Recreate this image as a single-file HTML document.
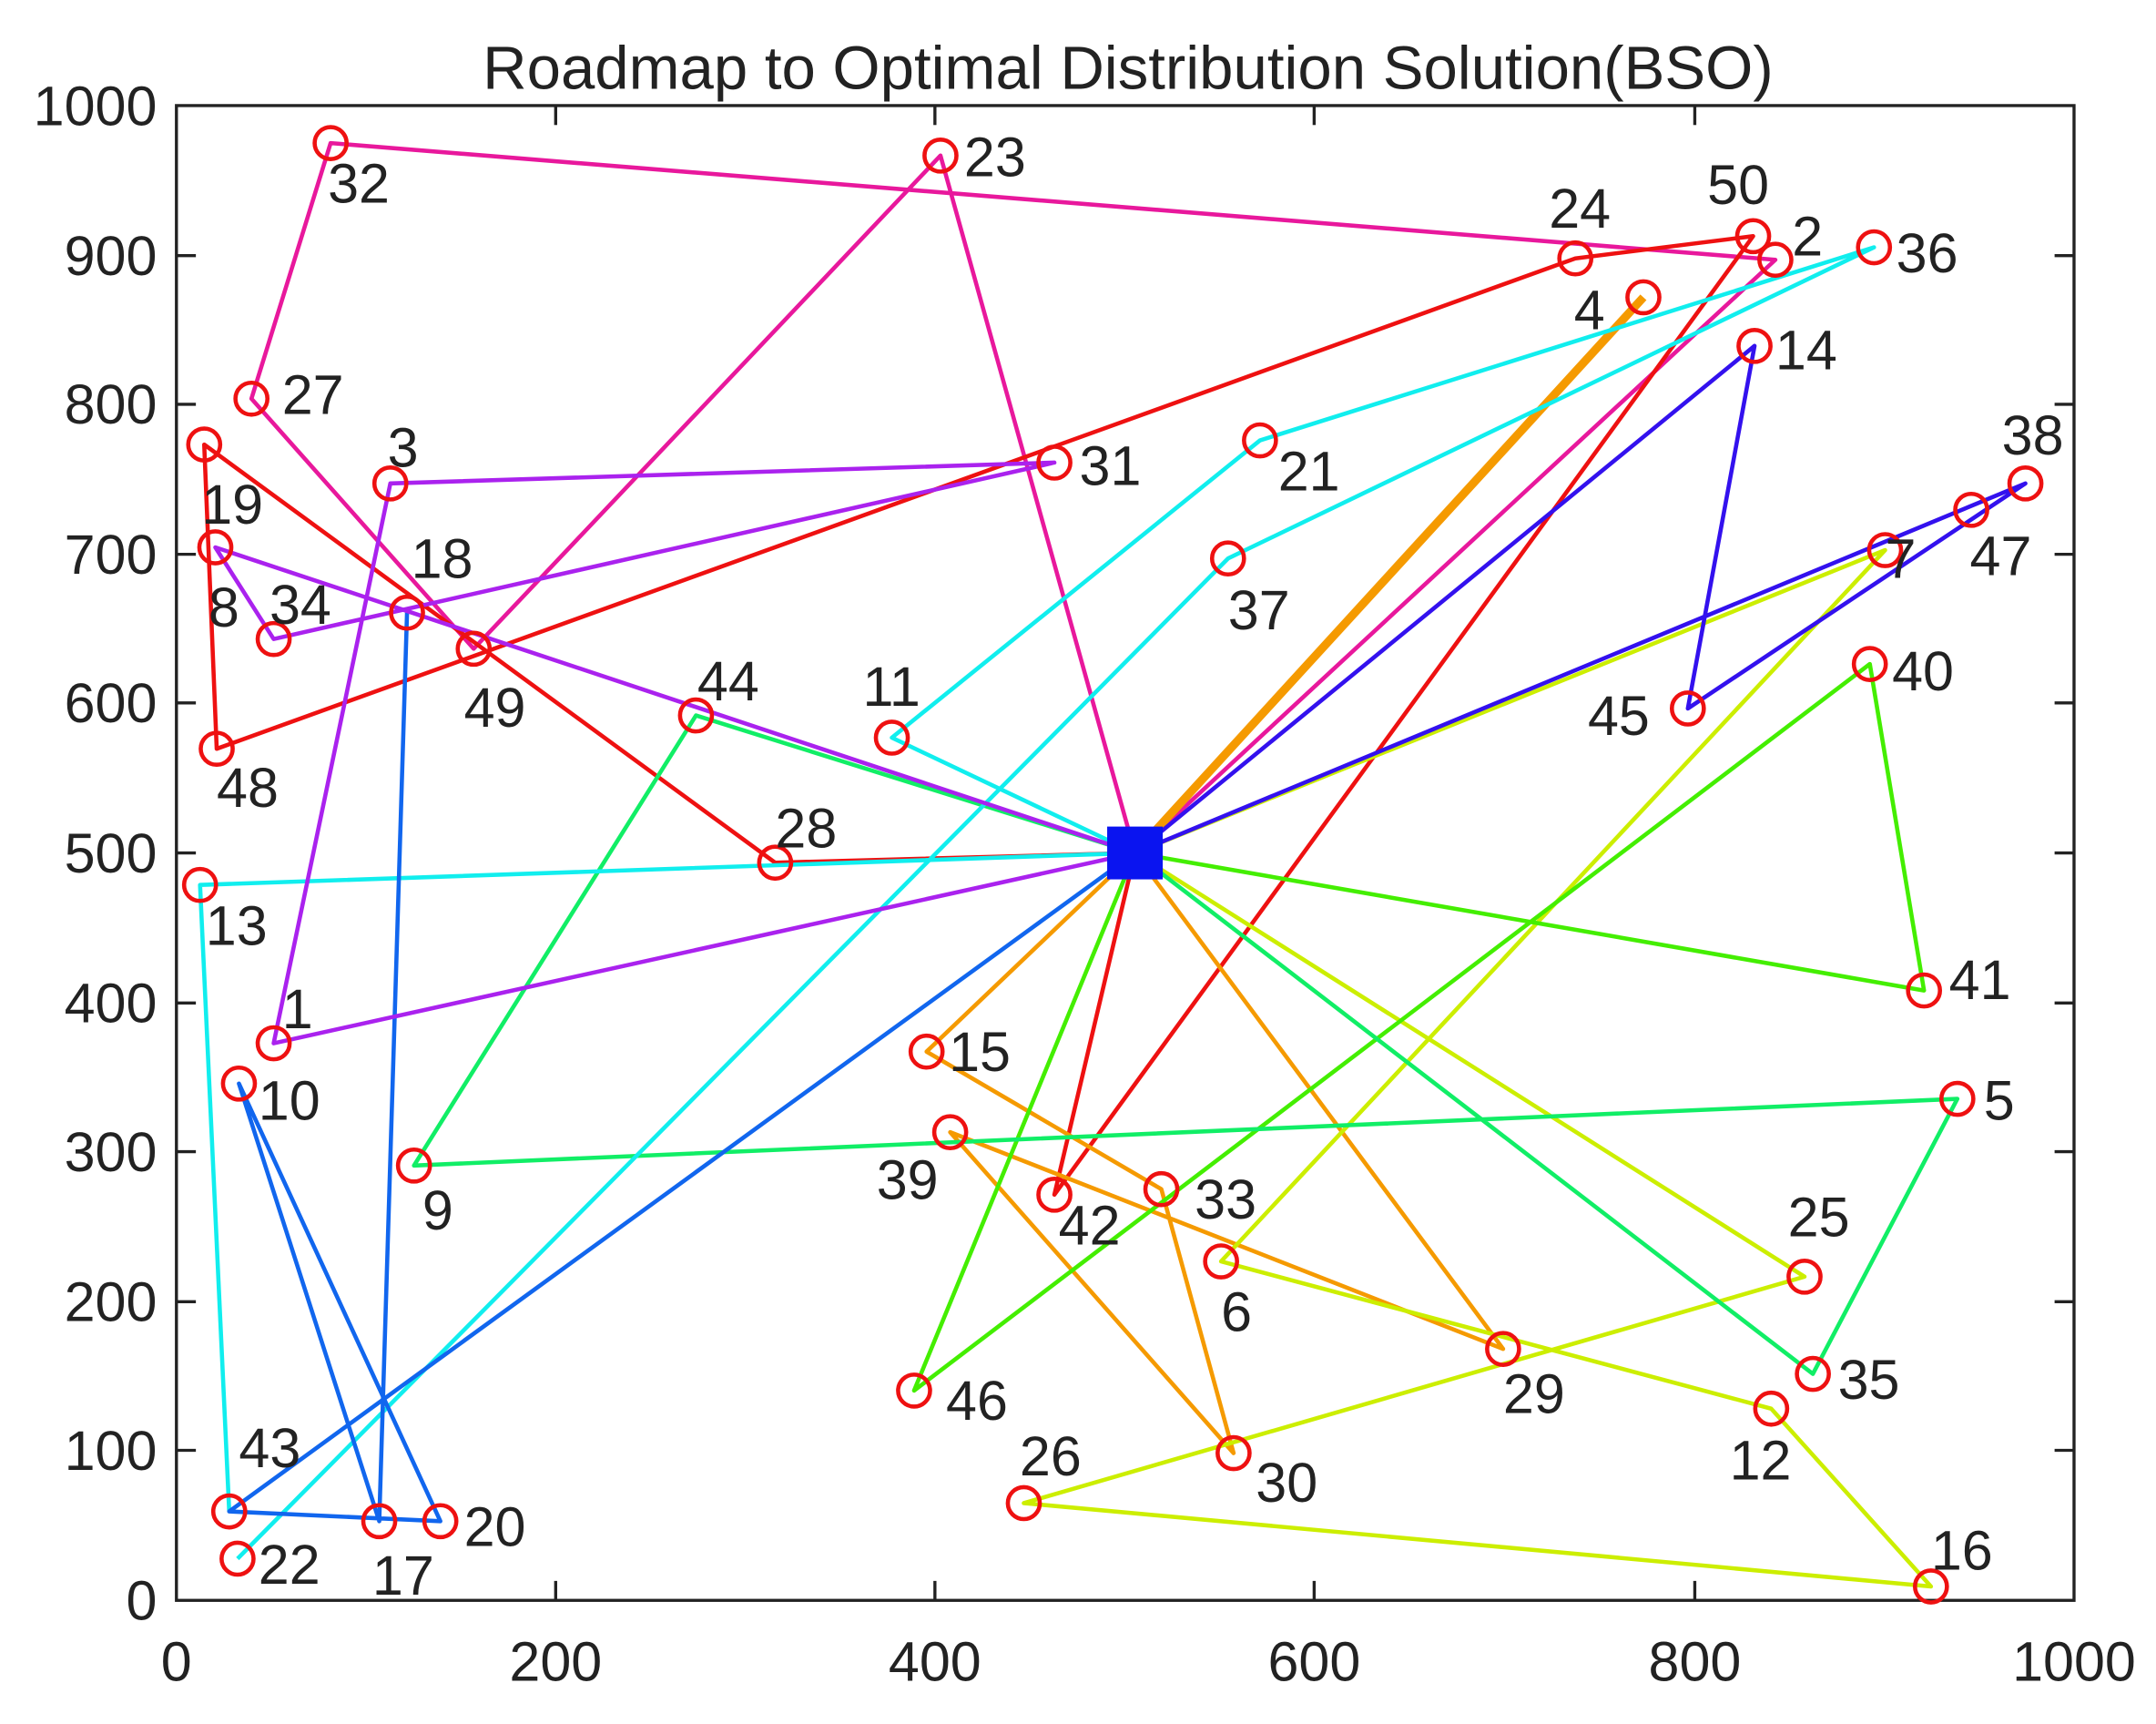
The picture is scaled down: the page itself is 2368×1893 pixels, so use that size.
<!DOCTYPE html>
<html><head><meta charset="utf-8"><style>
html,body{margin:0;padding:0;background:#fff;}
svg{display:block;}
text{font-family:"Liberation Sans",sans-serif;fill:#222;}
</style></head><body>
<svg width="2368" height="1893" viewBox="0 0 1552 1241" preserveAspectRatio="none" xmlns="http://www.w3.org/2000/svg">
<rect width="1552" height="1241" fill="#fff"/>
<text x="812" y="64" font-size="44" text-anchor="middle">Roadmap to Optimal Distribution Solution(BSO)</text>
<rect x="127" y="76" width="1366" height="1076" fill="none" stroke="#222" stroke-width="2.2"/>
<g stroke="#222" stroke-width="2.2">
<line x1="400" y1="1152" x2="400" y2="1138"/><line x1="673" y1="1152" x2="673" y2="1138"/><line x1="946" y1="1152" x2="946" y2="1138"/><line x1="1220" y1="1152" x2="1220" y2="1138"/>
<line x1="400" y1="76" x2="400" y2="90"/><line x1="673" y1="76" x2="673" y2="90"/><line x1="946" y1="76" x2="946" y2="90"/><line x1="1220" y1="76" x2="1220" y2="90"/>
<line x1="127" y1="1044" x2="141" y2="1044"/><line x1="127" y1="937" x2="141" y2="937"/><line x1="127" y1="829" x2="141" y2="829"/><line x1="127" y1="722" x2="141" y2="722"/><line x1="127" y1="614" x2="141" y2="614"/><line x1="127" y1="506" x2="141" y2="506"/><line x1="127" y1="399" x2="141" y2="399"/><line x1="127" y1="291" x2="141" y2="291"/><line x1="127" y1="184" x2="141" y2="184"/>
<line x1="1493" y1="1044" x2="1479" y2="1044"/><line x1="1493" y1="937" x2="1479" y2="937"/><line x1="1493" y1="829" x2="1479" y2="829"/><line x1="1493" y1="722" x2="1479" y2="722"/><line x1="1493" y1="614" x2="1479" y2="614"/><line x1="1493" y1="506" x2="1479" y2="506"/><line x1="1493" y1="399" x2="1479" y2="399"/><line x1="1493" y1="291" x2="1479" y2="291"/><line x1="1493" y1="184" x2="1479" y2="184"/>
</g>
<g font-size="40" text-anchor="middle">
<text x="127" y="1210">0</text><text x="400" y="1210">200</text><text x="673" y="1210">400</text><text x="946" y="1210">600</text><text x="1220" y="1210">800</text><text x="1493" y="1210">1000</text>
</g>
<g font-size="40" text-anchor="end">
<text x="113" y="1166">0</text><text x="113" y="1058">100</text><text x="113" y="951">200</text><text x="113" y="843">300</text><text x="113" y="736">400</text><text x="113" y="628">500</text><text x="113" y="520">600</text><text x="113" y="413">700</text><text x="113" y="305">800</text><text x="113" y="198">900</text><text x="113" y="90">1000</text>
</g>
<g fill="none" stroke-width="3" stroke-linejoin="round">
<polyline stroke="#e8189c" points="817,614 1278,187 238,103 181,287 341,467 677,112 817,614"/>
<polyline stroke="#ee1111" points="817,614 759,860 1262,170 1134,186 156,539 147,320 558,621 817,614"/>
<polyline stroke="#f59a00" points="817,614 667,757 836,856 888,1046 684,815 1082,971 817,614"/>
<polyline stroke="#f59a00" stroke-width="6" points="817,614 1183,214"/>
<polyline stroke="#ccee00" points="817,614 1299,919 737,1082 1390,1142 1275,1014 879,908 1357,396 817,614"/>
<polyline stroke="#44ee00" points="817,614 658,1001 1346,478 1385,713 817,614"/>
<polyline stroke="#11ee66" points="817,614 1305,989 1409,791 298,839 501,515 817,614"/>
<polyline stroke="#11eeee" points="817,614 642,531 907,317 1349,178 884,402 171,1122"/>
<polyline stroke="#11eeee" points="165,1088 144,637 817,614"/>
<polyline stroke="#1166ee" points="817,614 165,1088 317,1095 172,780 273,1095 293,441"/>
<polyline stroke="#aa22ee" points="817,614 197,751 281,348 759,333 197,460 155,394 817,614"/>
<polyline stroke="#3311ee" points="817,614 1263,249 1215,510 1458,348 817,614"/>
</g>
<rect x="797" y="595" width="40" height="38" fill="#0a14f0"/>
<g fill="none" stroke="#ee1111" stroke-width="3">
<circle cx="197" cy="751" r="11.5"/><circle cx="1278" cy="187" r="11.5"/><circle cx="281" cy="348" r="11.5"/><circle cx="1183" cy="214" r="11.5"/><circle cx="1409" cy="791" r="11.5"/><circle cx="879" cy="908" r="11.5"/><circle cx="1357" cy="396" r="11.5"/><circle cx="155" cy="394" r="11.5"/><circle cx="298" cy="839" r="11.5"/><circle cx="172" cy="780" r="11.5"/>
<circle cx="642" cy="531" r="11.5"/><circle cx="1275" cy="1014" r="11.5"/><circle cx="144" cy="637" r="11.5"/><circle cx="1263" cy="249" r="11.5"/><circle cx="667" cy="757" r="11.5"/><circle cx="1390" cy="1142" r="11.5"/><circle cx="273" cy="1095" r="11.5"/><circle cx="293" cy="441" r="11.5"/><circle cx="147" cy="320" r="11.5"/><circle cx="317" cy="1095" r="11.5"/>
<circle cx="907" cy="317" r="11.5"/><circle cx="171" cy="1122" r="11.5"/><circle cx="677" cy="112" r="11.5"/><circle cx="1134" cy="186" r="11.5"/><circle cx="1299" cy="919" r="11.5"/><circle cx="737" cy="1082" r="11.5"/><circle cx="181" cy="287" r="11.5"/><circle cx="558" cy="621" r="11.5"/><circle cx="1082" cy="971" r="11.5"/><circle cx="888" cy="1046" r="11.5"/>
<circle cx="759" cy="333" r="11.5"/><circle cx="238" cy="103" r="11.5"/><circle cx="836" cy="856" r="11.5"/><circle cx="197" cy="460" r="11.5"/><circle cx="1305" cy="989" r="11.5"/><circle cx="1349" cy="178" r="11.5"/><circle cx="884" cy="402" r="11.5"/><circle cx="1458" cy="348" r="11.5"/><circle cx="684" cy="815" r="11.5"/><circle cx="1346" cy="478" r="11.5"/>
<circle cx="1385" cy="713" r="11.5"/><circle cx="759" cy="860" r="11.5"/><circle cx="165" cy="1088" r="11.5"/><circle cx="501" cy="515" r="11.5"/><circle cx="1215" cy="510" r="11.5"/><circle cx="658" cy="1001" r="11.5"/><circle cx="1419" cy="367" r="11.5"/><circle cx="156" cy="539" r="11.5"/><circle cx="341" cy="467" r="11.5"/><circle cx="1262" cy="170" r="11.5"/>
</g>
<g font-size="40">
<text x="203" y="740">1</text><text x="1290" y="184">2</text><text x="279" y="336">3</text><text x="1133" y="237">4</text><text x="1428" y="806">5</text><text x="879" y="958">6</text><text x="1357" y="416">7</text><text x="150" y="451">8</text><text x="304" y="885">9</text><text x="186" y="806">10</text>
<text x="621" y="508">11</text><text x="1245" y="1065">12</text><text x="148" y="680">13</text><text x="1278" y="266">14</text><text x="683" y="771">15</text><text x="1390" y="1130">16</text><text x="268" y="1148">17</text><text x="296" y="416">18</text><text x="145" y="377">19</text><text x="334" y="1113">20</text>
<text x="920" y="353">21</text><text x="186" y="1140">22</text><text x="694" y="127">23</text><text x="1115" y="164">24</text><text x="1287" y="890">25</text><text x="734" y="1062">26</text><text x="203" y="298">27</text><text x="558" y="610">28</text><text x="1082" y="1017">29</text><text x="904" y="1081">30</text>
<text x="777" y="349">31</text><text x="236" y="146">32</text><text x="860" y="877">33</text><text x="194" y="449">34</text><text x="1323" y="1007">35</text><text x="1365" y="196">36</text><text x="884" y="453">37</text><text x="1441" y="327">38</text><text x="631" y="863">39</text><text x="1362" y="497">40</text>
<text x="1403" y="719">41</text><text x="762" y="896">42</text><text x="172" y="1056">43</text><text x="502" y="504">44</text><text x="1143" y="529">45</text><text x="681" y="1022">46</text><text x="1418" y="414">47</text><text x="156" y="581">48</text><text x="334" y="523">49</text><text x="1229" y="147">50</text>
</g>
</svg>
</body></html>
